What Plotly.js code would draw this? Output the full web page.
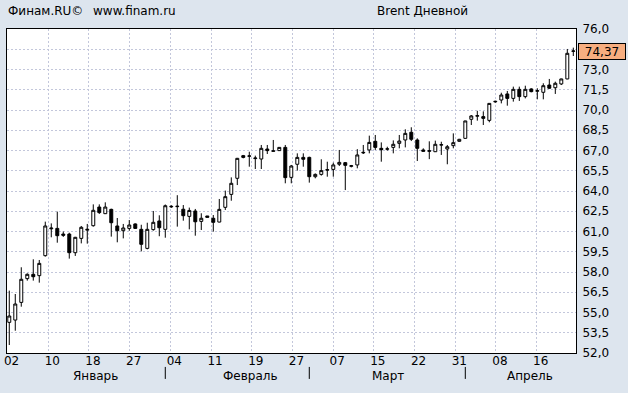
<!DOCTYPE html>
<html>
<head>
<meta charset="utf-8">
<script src="https://cdn.plot.ly/plotly-3.0.1.min.js"></script>
<style>
  html, body { margin: 0; padding: 0; background: #dde5ee; }
  #chart { width: 628px; height: 393px; }
</style>
</head>
<body>
<div id="chart"></div>
<script>
// ---- data (Brent, daily bars) ----
const dates = [
  '2019-01-02','2019-01-03','2019-01-04','2019-01-06','2019-01-07','2019-01-08','2019-01-09','2019-01-10','2019-01-11','2019-01-13',
  '2019-01-14','2019-01-15','2019-01-16','2019-01-17','2019-01-18','2019-01-20','2019-01-21','2019-01-22','2019-01-23','2019-01-24',
  '2019-01-25','2019-01-27','2019-01-28','2019-01-29','2019-01-30','2019-01-31','2019-02-01','2019-02-03','2019-02-04','2019-02-05',
  '2019-02-06','2019-02-07','2019-02-08','2019-02-10','2019-02-11','2019-02-12','2019-02-13','2019-02-14','2019-02-15','2019-02-17',
  '2019-02-18','2019-02-19','2019-02-20','2019-02-21','2019-02-22','2019-02-24','2019-02-25','2019-02-26','2019-02-27','2019-02-28',
  '2019-03-01','2019-03-03','2019-03-04','2019-03-05','2019-03-06','2019-03-07','2019-03-08','2019-03-10','2019-03-11','2019-03-12',
  '2019-03-13','2019-03-14','2019-03-15','2019-03-17','2019-03-18','2019-03-19','2019-03-20','2019-03-21','2019-03-22','2019-03-24',
  '2019-03-25','2019-03-26','2019-03-27','2019-03-28','2019-03-29','2019-03-31','2019-04-01','2019-04-02','2019-04-03','2019-04-04',
  '2019-04-05','2019-04-07','2019-04-08','2019-04-09','2019-04-10','2019-04-11','2019-04-12','2019-04-14','2019-04-15','2019-04-16',
  '2019-04-17','2019-04-18','2019-04-19','2019-04-21','2019-04-22'
];
const openP = [
  54.27,54.44,55.75,57.51,57.83,57.73,59.21,61.20,61.23,60.81,
  60.81,59.43,60.49,61.10,61.43,62.81,62.32,62.64,61.41,61.06,
  61.23,61.56,61.16,59.75,61.14,61.78,61.16,62.82,62.84,62.65,
  62.12,62.52,61.75,62.15,61.98,61.70,62.79,63.75,64.94,66.62,
  66.57,66.40,66.37,67.11,66.94,66.99,67.23,65.01,65.98,66.49,
  66.49,65.06,65.23,65.54,65.60,65.98,66.10,65.83,65.93,66.82,
  67.04,67.68,67.16,67.10,67.23,67.53,67.78,68.35,67.78,67.04,
  66.94,66.91,67.40,67.11,67.36,67.68,67.90,69.31,69.54,69.51,
  69.23,70.60,70.74,71.19,70.86,71.53,70.99,71.56,71.39,71.31,
  71.85,71.65,71.93,72.30,74.35
];
const highP = [
  56.62,56.37,58.35,57.90,58.94,58.89,61.73,61.60,62.47,61.00,
  60.91,60.60,61.41,61.56,63.01,63.01,63.16,62.69,62.00,61.56,
  61.85,61.60,61.50,61.65,62.52,62.20,63.00,62.95,63.69,62.96,
  62.77,62.67,62.35,62.15,62.22,63.41,64.03,65.01,66.45,66.67,
  66.91,66.62,67.41,67.41,67.78,67.25,67.41,65.93,66.79,66.79,
  66.54,65.30,66.35,66.17,66.10,67.04,66.15,65.93,67.10,67.41,
  68.10,68.15,67.60,67.28,67.75,68.15,68.57,68.72,67.90,67.16,
  67.68,67.73,67.65,67.41,68.27,67.86,69.20,69.63,69.94,69.90,
  70.50,70.69,71.28,71.41,71.73,71.73,71.80,71.61,71.61,71.98,
  72.30,72.10,72.32,74.52,74.62
];
const lowP = [
  52.59,53.65,55.43,57.36,57.36,57.21,59.14,60.57,60.17,60.60,
  58.99,59.19,60.12,60.10,61.36,62.30,62.30,60.62,60.20,60.49,
  61.06,61.20,59.53,59.68,61.06,60.65,60.54,62.75,61.36,61.80,
  61.16,60.69,61.11,62.05,60.99,61.68,62.59,63.28,64.44,66.42,
  65.80,65.63,65.63,66.74,66.94,66.97,64.57,64.57,65.51,65.80,
  64.62,64.94,65.14,65.06,65.06,65.85,64.07,65.75,65.68,66.74,
  66.79,67.04,66.17,66.99,66.79,67.16,67.23,67.70,66.22,66.91,
  66.36,66.89,66.67,65.98,67.16,67.65,67.88,68.89,69.21,68.89,
  69.09,70.54,70.49,70.32,70.62,70.67,70.86,71.31,70.79,70.79,
  71.56,71.19,71.85,72.28,74.00
];
const closeP = [
  54.74,55.63,57.46,57.83,57.65,58.64,61.41,61.25,60.69,60.72,
  59.43,60.57,61.31,61.16,62.57,62.40,62.81,61.65,61.06,61.26,
  61.48,61.23,60.05,61.16,61.68,61.28,62.91,62.86,62.87,62.17,
  62.56,61.72,61.98,62.05,61.68,62.64,63.58,64.57,66.42,66.49,
  66.60,66.44,67.16,66.99,66.97,67.23,64.99,65.85,66.49,66.35,
  65.06,65.23,65.51,65.58,65.93,66.12,65.90,65.87,66.67,66.86,
  67.60,67.23,67.06,67.12,67.46,67.70,68.27,67.83,67.16,66.94,
  66.98,67.46,67.43,67.28,67.58,67.83,69.19,69.56,69.58,69.38,
  70.49,70.64,71.11,70.86,71.53,70.99,71.53,71.36,71.43,71.80,
  71.61,71.98,72.30,74.20,74.37
];
const tickLabels = ['02','10','18','27','04','11','19','27','07','15','22','31','08','16'];
const monthNames = ['Январь','Февраль','Март','Апрель'];
const headerLeft = 'Финам.RU©';
const headerSite = 'www.finam.ru';
const headerTitle = 'Brent Дневной';

// ---- layout helpers (positions only) ----
const gridStart = -0.283, gridStep = 6.783;
const tickVals = tickLabels.map((_, k) => gridStart + gridStep * k);
const monthLabelPos = [14.37, 40.2, 63.2, 86.8];
const yMin = 52, yMax = 76, yStep = 1.5;

const lastClose = closeP[closeP.length - 1];
// y ticks; the label hidden under the last-price box is left blank
const yTickVals = [], yTickText = [];
for (let v = yMin; v <= yMax + 1e-9; v += yStep) {
  yTickVals.push(v);
  yTickText.push(Math.abs(v - lastClose) < 0.75 ? '' : v.toFixed(1).replace('.', ','));
}

// month boundaries from the dates
const monthStarts = [];
for (let i = 1; i < dates.length; i++) {
  if (dates[i].slice(5, 7) !== dates[i - 1].slice(5, 7)) monthStarts.push(i);
}

const fontFam = 'DejaVu Sans, Verdana, sans-serif';
const gridCol = '#c3c7db';

const trace = {
  type: 'candlestick',
  x: dates,
  open: openP, high: highP, low: lowP, close: closeP,
  increasing: { line: { color: '#000', width: 1 }, fillcolor: '#ffffff' },
  decreasing: { line: { color: '#000', width: 1 }, fillcolor: '#000000' },
  whiskerwidth: 0,
  hoverinfo: 'none',
  showlegend: false
};

const shapes = monthStarts.map(i => ({
  type: 'line', xref: 'x', yref: 'paper',
  x0: i, x1: i, y0: -0.043, y1: -0.080,
  line: { color: '#000', width: 1 }
}));

const annotations = [];
monthNames.forEach((m, k) => annotations.push({
  text: m, xref: 'x', yref: 'paper', x: monthLabelPos[k], y: -0.070,
  xanchor: 'center', yanchor: 'middle', showarrow: false, borderpad: 0,
  font: { family: fontFam, size: 12, color: '#000' }
}));
annotations.push({
  text: headerLeft, xref: 'paper', yref: 'paper', x: 0, xshift: -1, y: 1.0556,
  xanchor: 'left', yanchor: 'middle', showarrow: false,
  font: { family: fontFam, size: 12, color: '#000' }
});
annotations.push({
  text: headerSite, xref: 'paper', yref: 'paper', x: 0, xshift: 84, y: 1.0556,
  xanchor: 'left', yanchor: 'middle', showarrow: false,
  font: { family: fontFam, size: 12, color: '#000' }
});
annotations.push({
  text: headerTitle, xref: 'paper', yref: 'paper', x: 0, xshift: 368, y: 1.0556,
  xanchor: 'left', yanchor: 'middle', showarrow: false,
  font: { family: fontFam, size: 12, color: '#000' }
});
annotations.push({
  text: lastClose.toFixed(2).replace('.', ','), xref: 'paper', yref: 'y',
  x: 1, xshift: 2, y: lastClose, xanchor: 'left', yanchor: 'middle',
  showarrow: false, bgcolor: '#f7ae80', bordercolor: '#000', borderwidth: 1,
  borderpad: 0, width: 46, height: 15, align: 'center',
  font: { family: fontFam, size: 12, color: '#000' }
});

const layout = {
  width: 628, height: 393,
  margin: { l: 7, r: 52, t: 29, b: 40, pad: 0 },
  paper_bgcolor: '#dde5ee',
  plot_bgcolor: '#ffffff',
  separators: ', ',
  font: { family: fontFam, size: 12, color: '#000' },
  showlegend: false,
  boxgap: 0.3,
  xaxis: {
    type: 'category',
    range: [-0.38, 94.45],
    tickmode: 'array', tickvals: tickVals, ticktext: tickLabels,
    showgrid: true, gridcolor: gridCol, griddash: '2px,2px', gridwidth: 1,
    showline: true, mirror: true, linecolor: '#000', linewidth: 1,
    ticks: '', ticklabelshift: 4, ticklabelstandoff: -3,
    zeroline: false, fixedrange: true,
    rangeslider: { visible: false },
    tickfont: { family: fontFam, size: 12, color: '#000' }
  },
  yaxis: {
    side: 'right',
    range: [yMin, yMax],
    tickmode: 'array', tickvals: yTickVals, ticktext: yTickText,
    showgrid: true, gridcolor: gridCol, griddash: '2px,2px', gridwidth: 1,
    showline: true, mirror: true, linecolor: '#000', linewidth: 1,
    ticks: '', ticklabelstandoff: 3,
    zeroline: false, fixedrange: true,
    tickfont: { family: fontFam, size: 12, color: '#000' }
  },
  shapes: shapes,
  annotations: annotations
};

Plotly.newPlot('chart', [trace], layout, { displayModeBar: false, staticPlot: true });
</script>
</body>
</html>
